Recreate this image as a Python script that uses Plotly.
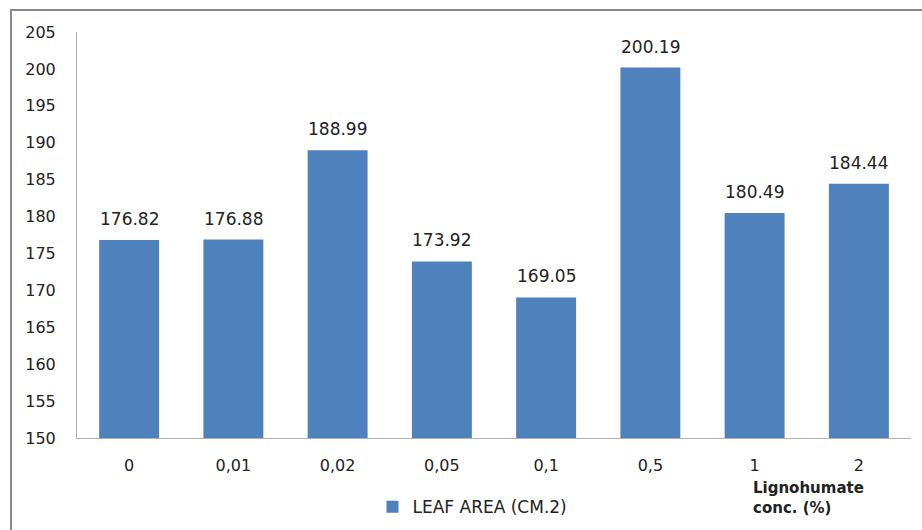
import plotly.graph_objects as go

categories = ["0", "0,01", "0,02", "0,05", "0,1", "0,5", "1", "2"]
leaf_area = [176.82, 176.88, 188.99, 173.92, 169.05, 200.19, 180.49, 184.44]
y_ticks = [150, 155, 160, 165, 170, 175, 180, 185, 190, 195, 200, 205]
series_name = "LEAF AREA (CM.2)"

FONT = "DejaVu Sans"
fig = go.Figure()
fig.add_trace(go.Bar(
    x=categories, y=leaf_area, name=series_name,
    marker=dict(color="#4F81BD", line=dict(width=0)),
    showlegend=True,
))

value_labels = [dict(x=i, y=v, text=f"{v:.2f}", xref="x", yref="y",
                     yanchor="bottom", yshift=9, showarrow=False,
                     font=dict(family=FONT, size=17, color="#222"))
                for i, v in enumerate(leaf_area)]

fig.update_layout(
    width=922, height=530,
    margin=dict(l=77, r=11, t=32, b=92),
    paper_bgcolor="white", plot_bgcolor="white",
    bargap=0.425,
    font=dict(family=FONT, size=16, color="#222"),
    xaxis=dict(type="category", showline=True, linecolor="#b0b0b0", linewidth=1,
               ticks="", ticklabelstandoff=13, showgrid=False,
               tickfont=dict(family=FONT, size=16, color="#222")),
    yaxis=dict(range=[150, 205], tickvals=y_ticks, showline=True, linecolor="#b0b0b0",
               linewidth=1, ticks="", ticklabelstandoff=17, showgrid=False, zeroline=False,
               tickfont=dict(family=FONT, size=16, color="#222")),
    legend=dict(orientation="h", xref="container", yref="container",
                x=0.404, xanchor="left", y=0.043, yanchor="middle",
                font=dict(family=FONT, size=17, color="#222"), itemwidth=30),
    shapes=[dict(type="rect", xref="paper", yref="paper",
                 x0=-0.0791, y0=-0.4, x1=1.05, y1=1.054,
                 line=dict(color="#8a8a8a", width=2), layer="below")],
    annotations=value_labels + [
        dict(text="<b>Lignohumate<br>conc. (%)</b>", xref="paper", yref="paper",
             x=0.808, y=-0.096, xanchor="left", yanchor="top", align="left",
             showarrow=False, font=dict(family=FONT, size=15, color="#222"))],
)
fig.write_html("out.html")
